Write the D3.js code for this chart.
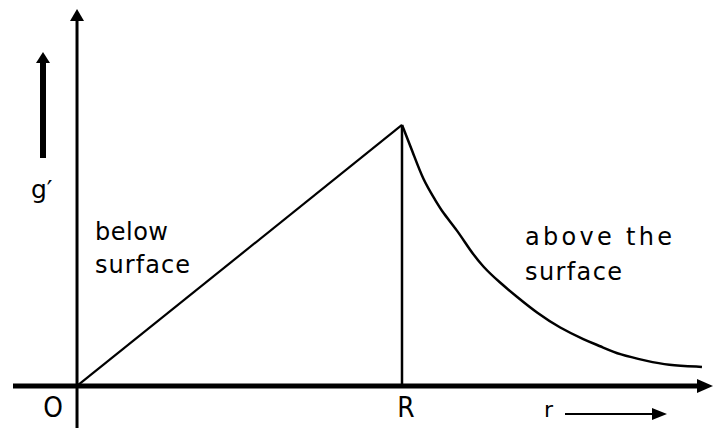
<!DOCTYPE html>
<html>
<head>
<meta charset="utf-8">
<script src="https://cdn.jsdelivr.net/npm/d3@7"></script>
<style>
  html, body { margin: 0; padding: 0; background: #fff; }
  svg { display: block; }
  text { font-family: "DejaVu Sans", "Liberation Sans", sans-serif; fill: #000; }
</style>
</head>
<body>
<svg id="chart" width="717" height="430"></svg>
<script>
// Gravity g' versus distance r from the centre (r in units of R, g' in units of surface value)
const insideR = [0, 1];
const insideG = [0, 1];

const outsideR = [1, 1.034, 1.065, 1.102, 1.126, 1.169, 1.209, 1.249, 1.302, 1.354,
                  1.415, 1.486, 1.563, 1.609, 1.671, 1.754, 1.815, 1.923];
const outsideG = [1, 0.893, 0.789, 0.713, 0.663, 0.598, 0.521, 0.456, 0.395, 0.341,
                  0.280, 0.222, 0.176, 0.153, 0.119, 0.096, 0.080, 0.073];

const tickPositions = [0, 1];
const tickLabels = ["O", "R"];

const svg = d3.select("#chart");

const x = d3.scaleLinear().domain([-0.197, 1.957]).range([13, 713]);
const y = d3.scaleLinear().domain([-0.161, 1.444]).range([428, 9]);

// y axis (thin vertical line with arrowhead)
svg.append("line")
  .attr("x1", x(0)).attr("x2", x(0))
  .attr("y1", y(-0.161)).attr("y2", y(1.40))
  .attr("stroke", "#000").attr("stroke-width", 3);
svg.append("path")
  .attr("d", `M${x(0)},${y(1.444)} L${x(0) - 7},${y(1.444) + 12} L${x(0) + 7},${y(1.444) + 12} Z`)
  .attr("fill", "#000");

// x axis (thick horizontal line with arrowhead)
svg.append("line")
  .attr("x1", x(-0.197)).attr("x2", x(1.92))
  .attr("y1", y(0)).attr("y2", y(0))
  .attr("stroke", "#000").attr("stroke-width", 5);
svg.append("path")
  .attr("d", `M${x(1.957)},${y(0)} L${x(1.957) - 16},${y(0) - 7} L${x(1.957) - 16},${y(0) + 7} Z`)
  .attr("fill", "#000");

// tick labels O and R
const tickOffsets = [-24, 4];
svg.selectAll("text.tick")
  .data(tickPositions)
  .join("text")
  .attr("class", "tick")
  .attr("x", (d, i) => x(d) + tickOffsets[i])
  .attr("y", y(0) + 31)
  .attr("text-anchor", "middle")
  .attr("font-size", 25)
  .attr("transform", `translate(0, ${-(y(0) + 31) * 0.12}) scale(1, 1.12)`)
  .text((d, i) => tickLabels[i]);

// r label with arrow
svg.append("text")
  .attr("x", 544).attr("y", 417)
  .attr("font-size", 22)
  .text("r");
svg.append("line")
  .attr("x1", 565).attr("x2", 655)
  .attr("y1", 414).attr("y2", 414)
  .attr("stroke", "#000").attr("stroke-width", 2);
svg.append("path")
  .attr("d", "M667,414 L652,408 L652,420 Z")
  .attr("fill", "#000");

// g' label with thick arrow
svg.append("rect")
  .attr("x", 40).attr("y", 62).attr("width", 6).attr("height", 96)
  .attr("fill", "#000");
svg.append("path")
  .attr("d", "M43,52 L36,63 L50,63 Z")
  .attr("fill", "#000");
svg.append("text")
  .attr("x", 31).attr("y", 198)
  .attr("font-size", 25)
  .text("g\u2032");

// vertical line at r = R
svg.append("line")
  .attr("x1", x(1)).attr("x2", x(1))
  .attr("y1", y(1)).attr("y2", y(0))
  .attr("stroke", "#000").attr("stroke-width", 2.5);

const line = d3.line().x(d => x(d[0])).y(d => y(d[1]));

// inside the body: g' grows linearly with r
svg.append("path")
  .attr("d", line(d3.zip(insideR, insideG)))
  .attr("fill", "none").attr("stroke", "#000").attr("stroke-width", 2.2);

// outside the body: g' falls off with distance
svg.append("path")
  .attr("d", line.curve(d3.curveBasis)(d3.zip(outsideR, outsideG)))
  .attr("fill", "none").attr("stroke", "#000").attr("stroke-width", 2.5);

// annotations
const notes = [
  { t: "below", x: 95, y: 240, w: 73 },
  { t: "surface", x: 95, y: 273, w: 95 },
  { t: "above the", x: 525, y: 245, w: 147 },
  { t: "surface", x: 525, y: 280, w: 97 }
];
svg.selectAll("text.note")
  .data(notes)
  .join("text")
  .attr("class", "note")
  .attr("x", d => d.x).attr("y", d => d.y)
  .attr("font-size", 24)
  .attr("textLength", d => d.w)
  .attr("lengthAdjust", "spacing")
  .text(d => d.t);
</script>
</body>
</html>
